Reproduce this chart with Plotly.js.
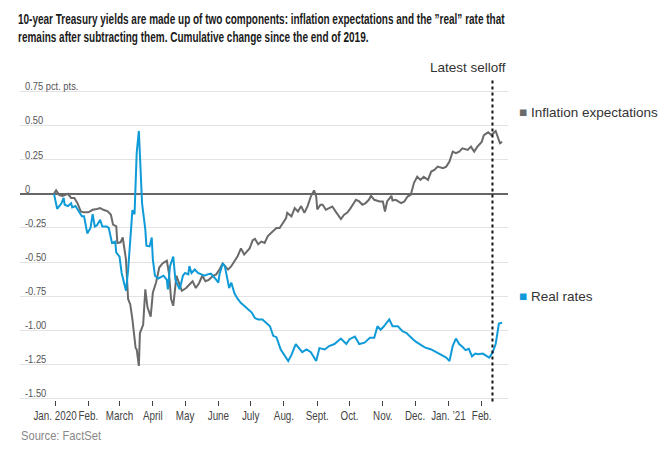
<!DOCTYPE html>
<html>
<head>
<meta charset="utf-8">
<script src="https://cdn.plot.ly/plotly-3.0.1.min.js"></script>
<style>html,body{margin:0;padding:0;background:#fff;}#chart{width:670px;height:458px;}</style>
</head>
<body>
<div id="chart"></div>
<script>
const titleText = '10-year Treasury yields are made up of two components: inflation expectations and the \u201dreal\u201d rate that<br>remains after subtracting them. Cumulative change since the end of 2019.';
const sourceText = 'Source: FactSet';
const selloffLabel = 'Latest selloff';
const selloffDate = '2021-02-11';

const tickDates = ['2020-01-01','2020-02-01','2020-03-01','2020-04-01','2020-05-01','2020-06-01','2020-07-01','2020-08-01','2020-09-01','2020-10-01','2020-11-01','2020-12-01','2021-01-01','2021-02-01'];
const tickLabels = ['Jan. 2020','Feb.','March','April','May','June','July','Aug.','Sept.','Oct.','Nov.','Dec.','Jan. \u201921','Feb.'];
const yTickVals = [0.75,0.5,0.25,0,-0.25,-0.5,-0.75,-1,-1.25,-1.5];
const yTickLabels = ['0.75 pct. pts.','0.50','0.25','0','-0.25','-0.50','-0.75','-1.00','-1.25','-1.50'];

const inflName = 'Inflation expectations';
const inflDates = ['2019-12-31','2020-01-02','2020-01-05','2020-01-08','2020-01-13','2020-01-16','2020-01-19','2020-01-22','2020-01-25','2020-01-28',
'2020-02-01','2020-02-05','2020-02-09','2020-02-12','2020-02-15','2020-02-19','2020-02-22','2020-02-24','2020-02-27','2020-02-28',
'2020-03-02','2020-03-04','2020-03-07','2020-03-09','2020-03-11','2020-03-13','2020-03-16','2020-03-17','2020-03-19','2020-03-20',
'2020-03-23','2020-03-25','2020-03-27','2020-03-30','2020-04-01','2020-04-04','2020-04-07','2020-04-10','2020-04-14','2020-04-16',
'2020-04-18','2020-04-20','2020-04-23','2020-04-25','2020-04-28','2020-05-02','2020-05-05','2020-05-08','2020-05-11','2020-05-14',
'2020-05-17','2020-05-20','2020-05-23','2020-05-27','2020-05-30','2020-06-02','2020-06-05','2020-06-10','2020-06-13','2020-06-16',
'2020-06-19','2020-06-22','2020-06-25','2020-06-30','2020-07-03','2020-07-05','2020-07-08','2020-07-11','2020-07-14','2020-07-17',
'2020-07-22','2020-07-25','2020-07-28','2020-07-31','2020-08-03','2020-08-04','2020-08-08','2020-08-11','2020-08-14','2020-08-17',
'2020-08-20','2020-08-23','2020-08-26','2020-08-29','2020-08-31','2020-09-01','2020-09-04','2020-09-06','2020-09-09','2020-09-12',
'2020-09-15','2020-09-18','2020-09-23','2020-09-26','2020-09-29','2020-10-02','2020-10-07','2020-10-10','2020-10-13','2020-10-16',
'2020-10-19','2020-10-21','2020-10-24','2020-10-29','2020-11-01','2020-11-03','2020-11-05','2020-11-09','2020-11-10','2020-11-13',
'2020-11-18','2020-11-21','2020-11-24','2020-11-27','2020-11-30','2020-12-03','2020-12-06','2020-12-09','2020-12-13','2020-12-16',
'2020-12-19','2020-12-22','2020-12-27','2020-12-30','2021-01-02','2021-01-05','2021-01-08','2021-01-11','2021-01-14','2021-01-19',
'2021-01-22','2021-01-25','2021-01-28','2021-02-01','2021-02-03','2021-02-07','2021-02-10','2021-02-14','2021-02-17','2021-02-18','2021-02-20'];
const inflVals = [0,0.025,-0.01,-0.015,0,-0.03,-0.03,-0.07,-0.13,-0.136,
-0.136,-0.117,-0.112,-0.105,-0.117,-0.129,-0.153,-0.226,-0.238,-0.36,
-0.355,-0.32,-0.48,-0.77,-0.81,-0.92,-1.13,-1.14,-1.26,-1.02,
-0.96,-0.70,-0.83,-0.90,-0.725,-0.65,-0.54,-0.51,-0.49,-0.58,
-0.77,-0.82,-0.60,-0.65,-0.71,-0.69,-0.665,-0.64,-0.69,-0.655,
-0.60,-0.64,-0.63,-0.60,-0.59,-0.555,-0.51,-0.555,-0.53,-0.49,
-0.455,-0.40,-0.445,-0.40,-0.34,-0.33,-0.37,-0.35,-0.36,-0.31,
-0.275,-0.25,-0.25,-0.215,-0.178,-0.14,-0.165,-0.105,-0.13,-0.09,
-0.14,-0.09,-0.02,0.025,-0.02,-0.115,-0.08,-0.08,-0.117,-0.105,
-0.093,-0.129,-0.185,-0.153,-0.137,-0.105,-0.044,-0.056,-0.08,-0.068,
-0.044,-0.015,-0.044,-0.056,-0.056,-0.13,-0.056,-0.015,-0.049,-0.044,
-0.068,-0.056,-0.02,-0.007,0.08,0.125,0.102,0.125,0.102,0.163,
0.175,0.199,0.187,0.199,0.236,0.309,0.297,0.309,0.333,0.321,
0.345,0.309,0.345,0.38,0.43,0.45,0.43,0.46,0.39,0.37,0.38];

const realName = 'Real rates';
const realDates = ['2019-12-31','2020-01-03','2020-01-07','2020-01-09','2020-01-10','2020-01-13','2020-01-16','2020-01-17','2020-01-20','2020-01-23',
'2020-01-26','2020-01-28','2020-01-31','2020-02-03','2020-02-05','2020-02-07','2020-02-09','2020-02-12','2020-02-14','2020-02-18',
'2020-02-20','2020-02-23','2020-02-26','2020-02-27','2020-03-01','2020-03-03','2020-03-05','2020-03-07','2020-03-09','2020-03-11',
'2020-03-13','2020-03-15','2020-03-17','2020-03-19','2020-03-21','2020-03-22','2020-03-25','2020-03-26','2020-03-29','2020-03-31',
'2020-04-01','2020-04-03','2020-04-06','2020-04-11','2020-04-14','2020-04-15','2020-04-17','2020-04-20','2020-04-22','2020-04-26',
'2020-04-29','2020-05-01','2020-05-04','2020-05-05','2020-05-07','2020-05-10','2020-05-13','2020-05-16','2020-05-19','2020-05-22',
'2020-05-25','2020-05-29','2020-06-01','2020-06-02','2020-06-05','2020-06-07','2020-06-09','2020-06-11','2020-06-13','2020-06-16',
'2020-06-19','2020-06-22','2020-06-25','2020-06-29','2020-07-02','2020-07-05','2020-07-08','2020-07-12','2020-07-16','2020-07-19',
'2020-07-22','2020-07-25','2020-07-29','2020-08-02','2020-08-05','2020-08-08','2020-08-12','2020-08-15','2020-08-18','2020-08-22',
'2020-08-26','2020-08-31','2020-09-03','2020-09-08','2020-09-12','2020-09-17','2020-09-23','2020-09-28','2020-10-01','2020-10-06',
'2020-10-10','2020-10-15','2020-10-20','2020-10-24','2020-10-27','2020-10-30','2020-11-02','2020-11-07','2020-11-10','2020-11-15',
'2020-11-19','2020-11-23','2020-11-26','2020-11-29','2020-12-02','2020-12-05','2020-12-10','2020-12-16','2020-12-21','2020-12-25',
'2020-12-30','2021-01-02','2021-01-05','2021-01-08','2021-01-11','2021-01-14','2021-01-17','2021-01-20','2021-01-23','2021-01-26',
'2021-01-29','2021-02-02','2021-02-05','2021-02-08','2021-02-11','2021-02-14','2021-02-17','2021-02-20'];
const realVals = [0,-0.11,-0.07,-0.03,-0.08,-0.09,-0.07,-0.10,-0.09,-0.13,
-0.165,-0.165,-0.29,-0.25,-0.15,-0.24,-0.23,-0.19,-0.24,-0.24,
-0.25,-0.36,-0.35,-0.43,-0.46,-0.58,-0.64,-0.71,-0.56,-0.34,
-0.12,-0.15,0.30,0.46,0.10,-0.07,-0.26,-0.38,-0.385,-0.32,
-0.48,-0.60,-0.62,-0.60,-0.63,-0.70,-0.53,-0.46,-0.63,-0.70,
-0.60,-0.58,-0.59,-0.53,-0.58,-0.555,-0.58,-0.59,-0.60,-0.59,
-0.585,-0.62,-0.65,-0.59,-0.51,-0.53,-0.60,-0.69,-0.65,-0.73,
-0.77,-0.80,-0.82,-0.85,-0.87,-0.91,-0.92,-0.92,-0.945,-0.97,
-1.04,-1.05,-1.14,-1.19,-1.225,-1.18,-1.10,-1.13,-1.16,-1.14,
-1.16,-1.225,-1.13,-1.14,-1.115,-1.10,-1.06,-1.10,-1.065,-1.045,
-1.10,-1.09,-1.055,-1.055,-0.97,-0.995,-0.97,-0.92,-0.97,-0.97,
-1.005,-1.02,-1.045,-1.065,-1.085,-1.10,-1.125,-1.14,-1.16,-1.175,
-1.20,-1.225,-1.115,-1.06,-1.10,-1.12,-1.145,-1.135,-1.19,-1.17,
-1.175,-1.17,-1.185,-1.20,-1.165,-1.10,-0.95,-0.945];

const grayColor = '#6a6a6a';
const blueColor = '#0f9ad8';
const FONT = '"Liberation Sans", Arial, sans-serif';

const traces = [
  {x: inflDates, y: inflVals, name: inflName, type: 'scatter', mode: 'lines', line: {color: grayColor, width: 2}, hoverinfo: 'skip'},
  {x: realDates, y: realVals, name: realName, type: 'scatter', mode: 'lines', line: {color: blueColor, width: 2}, hoverinfo: 'skip'}
];

const sq = (c) => '<span style="color:' + c + '">\u25A0</span> ';

const layout = {
  width: 670, height: 458,
  margin: {l: 20, r: 162, t: 89.6, b: 57.6},
  paper_bgcolor: '#fff', plot_bgcolor: '#fff',
  showlegend: false,
  font: {family: FONT, color: '#333'},
  xaxis: {
    type: 'date',
    range: ['2019-11-29 10:00', '2021-02-25 11:00'],
    tickvals: tickDates, ticktext: tickLabels, tickangle: 0,
    ticks: 'outside', ticklen: 5, tickcolor: '#444', tickwidth: 1,
    ticklabeloverflow: 'allow',
    showgrid: false, zeroline: false, showline: false,
    tickfont: {family: FONT, size: 12, color: '#444'}
  },
  yaxis: {
    range: [-1.51, 0.76],
    tickvals: yTickVals, ticktext: yTickLabels,
    ticklabelposition: 'inside', ticklabelshift: -5, ticklabelstandoff: 2,
    ticklabeloverflow: 'allow',
    ticks: '', showgrid: true, gridcolor: '#e3e3e3', gridwidth: 1,
    zeroline: true, zerolinecolor: '#666', zerolinewidth: 1.5,
    tickfont: {family: FONT, size: 11, color: '#555'}
  },
  shapes: [
    {type: 'line', xref: 'x', yref: 'paper', x0: selloffDate, x1: selloffDate, y0: -0.005, y1: 1.04,
     line: {color: '#111', width: 2, dash: 'dot'}}
  ],
  annotations: [
    {xref: 'paper', yref: 'paper', x: -0.0082, y: 1.2625, xanchor: 'left', yanchor: 'top', align: 'left', showarrow: false,
     text: '<b>' + titleText + '</b>', font: {family: FONT, size: 14, color: '#1a1a1a'}},
    {xref: 'paper', yref: 'paper', x: 1, y: 1.0715, xanchor: 'right', yanchor: 'middle', showarrow: false,
     text: selloffLabel, font: {family: FONT, size: 13.5, color: '#333'}},
    {xref: 'paper', yref: 'y', x: 1.0184, y: 0.592, xanchor: 'left', yanchor: 'middle', showarrow: false,
     text: sq(grayColor) + inflName, font: {family: FONT, size: 13.5, color: '#333'}},
    {xref: 'paper', yref: 'y', x: 1.0184, y: -0.755, xanchor: 'left', yanchor: 'middle', showarrow: false,
     text: sq(blueColor) + realName, font: {family: FONT, size: 13.5, color: '#333'}},
    {xref: 'paper', yref: 'paper', x: -0.009, y: -0.117, xanchor: 'left', yanchor: 'middle', showarrow: false,
     text: sourceText, font: {family: FONT, size: 12, color: '#888'}}
  ]
};

// horizontally condense a text element about its own anchor point
function squeeze(el, factor) {
  const ax = parseFloat(el.getAttribute('x')) || 0;
  const prev = el.getAttribute('transform') || '';
  el.setAttribute('transform', (prev + ' translate(' + ax + ',0) scale(' + factor.toFixed(4) + ',1) translate(' + (-ax) + ',0)').trim());
}

Plotly.newPlot('chart', traces, layout, {staticPlot: true, displayModeBar: false}).then(gd => {
  gd.querySelectorAll('.xtick text').forEach(t => squeeze(t, 0.82));
  gd.querySelectorAll('.ytick text').forEach(t => squeeze(t, 0.85));
  const ann = gd.querySelectorAll('.annotation-text');
  if (ann[0]) {
    const first = ann[0].querySelector('tspan.line');
    const L1 = first ? first.getComputedTextLength() : 0;
    if (L1 > 0) squeeze(ann[0], 487 / L1);
  }
  if (ann[4]) squeeze(ann[4], 0.93);
});
</script>
</body>
</html>
